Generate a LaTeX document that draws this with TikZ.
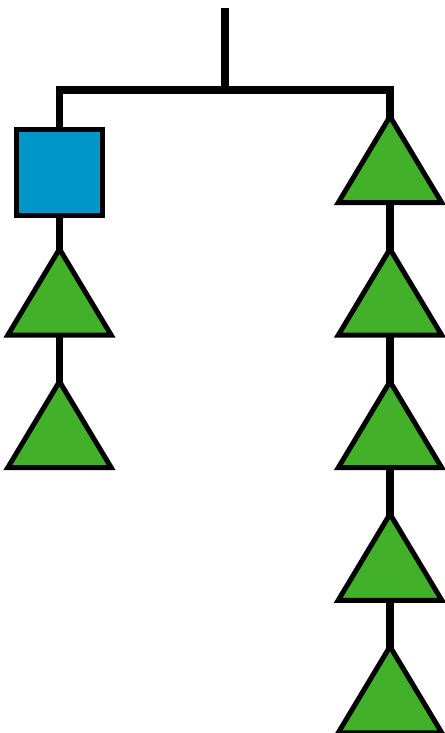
\documentclass[tikz,border=0pt]{standalone}
\usepackage{tikz}
\usetikzlibrary{shapes.geometric,positioning,backgrounds}
\definecolor{boxblue}{HTML}{0096C8}
\definecolor{leafgreen}{HTML}{43B02A}

\tikzset{
  branch/.style={line width=0.15cm},
  leaf/.style={regular polygon, regular polygon sides=3, draw, fill=leafgreen,
    line width=0.1cm, minimum size=2.3cm, inner sep=0pt, xscale=1.04},
  boxnode/.style={rectangle, draw, fill=boxblue, line width=0.11cm,
    minimum size=1.72cm, inner sep=0pt}
}

\begin{document}
\begin{tikzpicture}[x=0.02cm, y=-0.02cm]
  \useasboundingbox (0, 0) rectangle (444, 733);

  % Root and split point
  \coordinate (root) at (225, 8);
  \coordinate (split) at (225, 90);

  % Left branch
  \node[boxnode] (sq) at (59.5, 172.5) {};
  \node[leaf] (l1) at (59.5, 306.5) {};
  \node[leaf] (l2) at (59.5, 439) {};

  % Right branch
  \foreach \i in {1,...,5} {
    \node[leaf] (r\i) at (390, {174 + (\i-1)*132.5}) {};
  }

  % Connections, behind the shapes
  \begin{scope}[on background layer]
    \draw[branch] (root) -- (split);
    \draw[branch] (sq.center) |- (split) -| (r1.center);
    \draw[branch] (sq.center) -- (l1.center) -- (l2.center);
    \draw[branch] (r1.center) -- (r5.center);
  \end{scope}
\end{tikzpicture}
\end{document}
